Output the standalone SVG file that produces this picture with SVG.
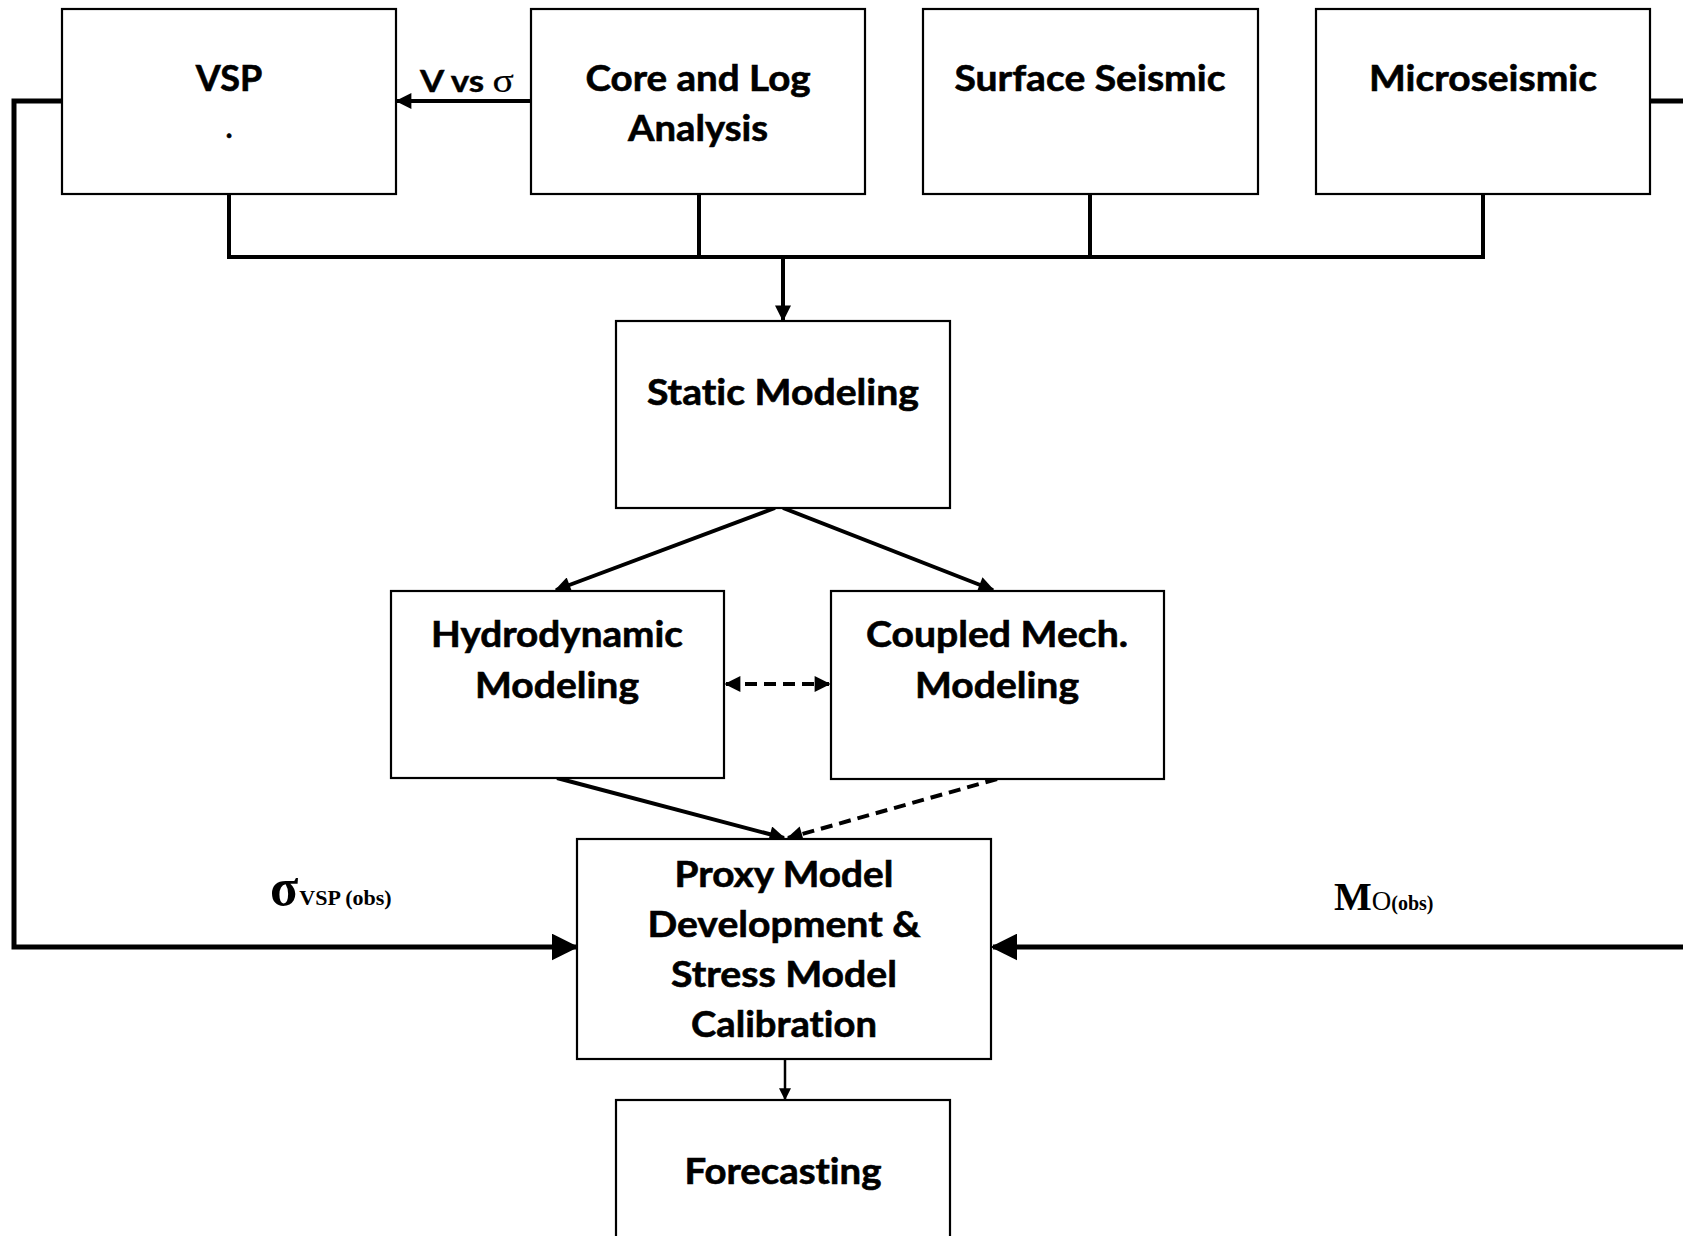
<svg xmlns="http://www.w3.org/2000/svg" width="1683" height="1236" viewBox="0 0 1683 1236">
<style>
.box{fill:#fff;stroke:#000;stroke-width:2.2}
.t{font-family:Lato,"Open Sans","Liberation Sans",sans-serif;font-weight:bold;font-size:36px;fill:#000;stroke:#000;stroke-width:0.6;text-anchor:middle;font-variant-ligatures:none;font-feature-settings:"liga" 0,"clig" 0}
.c{fill:none;stroke:#000;stroke-width:4}
.s{font-family:"Liberation Serif","Times New Roman",serif;font-weight:bold;fill:#000}
</style>
<defs>
<marker id="ah" viewBox="0 0 10 10" refX="9" refY="5" markerUnits="userSpaceOnUse" markerWidth="18" markerHeight="16" orient="auto-start-reverse"><path d="M0,0 L10,5 L0,10 z" fill="#000"/></marker>
<marker id="big" viewBox="0 0 10 10" refX="9" refY="5" markerUnits="userSpaceOnUse" markerWidth="27" markerHeight="27" orient="auto"><path d="M0,0 L10,5 L0,10 z" fill="#000"/></marker>
<marker id="sm" viewBox="0 0 10 10" refX="9" refY="5" markerUnits="userSpaceOnUse" markerWidth="15" markerHeight="12" orient="auto"><path d="M0,0 L10,5 L0,10 z" fill="#000"/></marker>
</defs>
<rect width="1683" height="1236" fill="#fff"/>
<g id="connectors">
<polyline class="c" points="229,194 229,257 1483,257 1483,194"/>
<line class="c" x1="699" y1="194" x2="699" y2="257"/>
<line class="c" x1="1090" y1="194" x2="1090" y2="257"/>
<line class="c" x1="783" y1="257" x2="783" y2="320" marker-end="url(#ah)"/>
<line class="c" x1="531" y1="101" x2="397" y2="101" marker-end="url(#ah)"/>
<polyline class="c" style="stroke-width:5" points="62,101 14,101 14,947 576,947" marker-end="url(#big)"/>
<line class="c" style="stroke-width:5" x1="1650" y1="101" x2="1690" y2="101"/>
<line class="c" style="stroke-width:5" x1="1690" y1="947" x2="993" y2="947" marker-end="url(#big)"/>
<line class="c" x1="775" y1="508" x2="556" y2="590" marker-end="url(#ah)"/>
<line class="c" x1="783" y1="508" x2="993" y2="590" marker-end="url(#ah)"/>
<line class="c" x1="726" y1="684" x2="829" y2="684" stroke-dasharray="12,7" marker-start="url(#ah)" marker-end="url(#ah)"/>
<line class="c" x1="557" y1="778" x2="784" y2="838" marker-end="url(#ah)"/>
<line class="c" x1="997" y1="779" x2="788" y2="838" stroke-dasharray="12,7" marker-end="url(#ah)"/>
<line class="c" style="stroke-width:2.5" x1="785" y1="1059" x2="785" y2="1099" marker-end="url(#sm)"/>
</g>
<g id="vsp"><rect class="box" x="62" y="9" width="334" height="185"/><text class="t" x="229" y="91">VSP</text><text class="t" x="229" y="138" style="font-size:28px">.</text></g>
<g id="core"><rect class="box" x="531" y="9" width="334" height="185"/><text class="t" x="698" y="91" textLength="225" lengthAdjust="spacingAndGlyphs">Core and Log</text><text class="t" x="698" y="141" textLength="140" lengthAdjust="spacingAndGlyphs">Analysis</text></g>
<g id="surface"><rect class="box" x="923" y="9" width="335" height="185"/><text class="t" x="1090" y="91" textLength="271" lengthAdjust="spacingAndGlyphs">Surface Seismic</text></g>
<g id="micro"><rect class="box" x="1316" y="9" width="334" height="185"/><text class="t" x="1483" y="91" textLength="228" lengthAdjust="spacingAndGlyphs">Microseismic</text></g>
<g id="label-vvs"><text x="420" y="92" textLength="94" lengthAdjust="spacingAndGlyphs" style="font-family:Lato,'Liberation Sans',sans-serif;font-weight:bold;font-size:30px;stroke:#000;stroke-width:0.4">V vs <tspan style="font-family:'Liberation Serif',serif;font-weight:normal;font-size:34px;stroke-width:0.2">σ</tspan></text></g>
<g id="static"><rect class="box" x="616" y="321" width="334" height="187"/><text class="t" x="783" y="405" textLength="272" lengthAdjust="spacingAndGlyphs">Static Modeling</text></g>
<g id="hydro"><rect class="box" x="391" y="591" width="333" height="187"/><text class="t" x="557" y="647" textLength="252" lengthAdjust="spacingAndGlyphs">Hydrodynamic</text><text class="t" x="557" y="698" textLength="164" lengthAdjust="spacingAndGlyphs">Modeling</text></g>
<g id="coupled"><rect class="box" x="831" y="591" width="333" height="188"/><text class="t" x="997" y="647" textLength="262" lengthAdjust="spacingAndGlyphs">Coupled Mech.</text><text class="t" x="997" y="698" textLength="164" lengthAdjust="spacingAndGlyphs">Modeling</text></g>
<g id="proxy"><rect class="box" x="577" y="839" width="414" height="220"/><text class="t" x="784" y="887" textLength="219" lengthAdjust="spacingAndGlyphs">Proxy Model</text><text class="t" x="784" y="937" textLength="273" lengthAdjust="spacingAndGlyphs">Development &amp;</text><text class="t" x="784" y="987" textLength="226" lengthAdjust="spacingAndGlyphs">Stress Model</text><text class="t" x="784" y="1037" textLength="186" lengthAdjust="spacingAndGlyphs">Calibration</text></g>
<g id="forecast"><rect class="box" x="616" y="1100" width="334" height="150"/><text class="t" x="783" y="1184" textLength="197" lengthAdjust="spacingAndGlyphs">Forecasting</text></g>
<g id="label-sigma"><text class="s" x="270" y="905" style="font-size:52px">σ<tspan style="font-size:22px" dx="1">VSP (obs)</tspan></text></g>
<g id="label-mo"><text class="s" x="1334" y="910" style="font-size:40px">M<tspan style="font-size:27px;font-weight:normal">O</tspan><tspan style="font-size:20px">(obs)</tspan></text></g>
</svg>
